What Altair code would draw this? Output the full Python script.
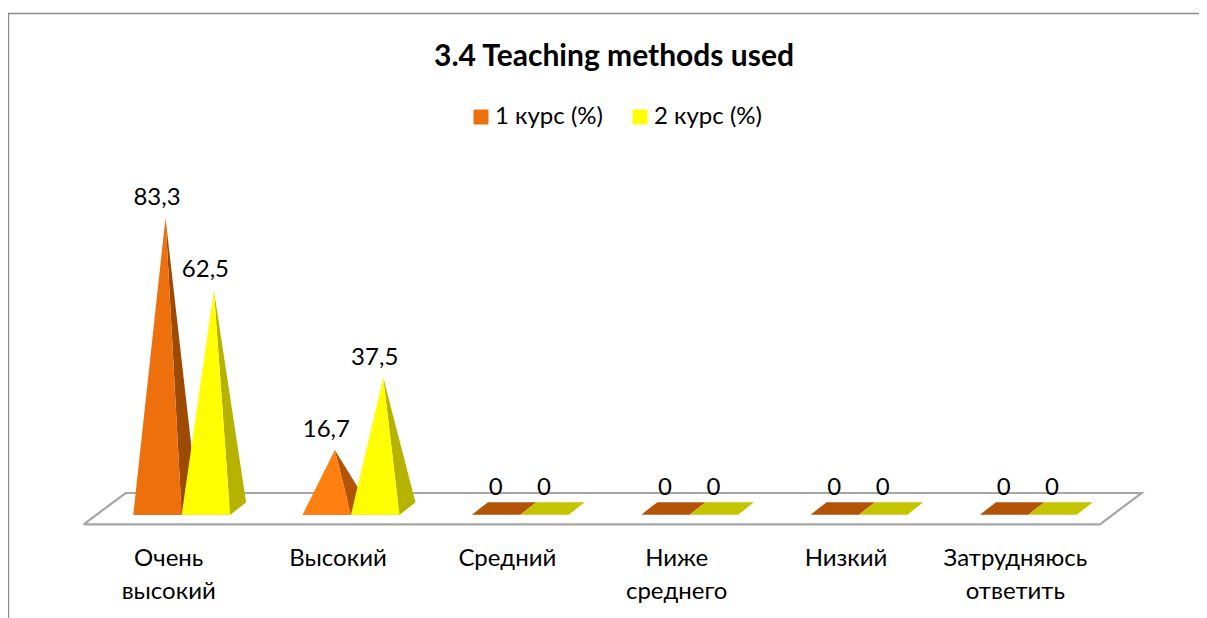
import altair as alt
import pandas as pd

categories = ["Очень\nвысокий", "Высокий", "Средний", "Ниже\nсреднего", "Низкий", "Затрудняюсь\nответить"]
series_names = ["1 курс (%)", "2 курс (%)"]
course1 = [83.3, 16.7, 0, 0, 0, 0]
course2 = [62.5, 37.5, 0, 0, 0, 0]
labels1 = ["83,3", "16,7", "0", "0", "0", "0"]
labels2 = ["62,5", "37,5", "0", "0", "0", "0"]

FONT = "Lato"
W, H = 1191, 610
UX = 169.33   # px per category
UY = 3.49     # px per percent
X0 = 181.7 - 8
Y0 = 508.4 - 8
HW = 24.2 / UX     # half width of a pyramid, in category units
DX = 16.0 / UX     # depth offset
DY = 6.25 / UY     # half depth height

front_colors = {0: ["#EE700C", "#FF7F10", "#EE700C", "#EE700C", "#EE700C", "#EE700C"], 1: ["#FFFF00"] * 6}
side_colors = {0: ["#9C4A04", "#B25405", "#B25405", "#B25405", "#B25405", "#B25405"], 1: ["#B5B300"] * 6}
base_colors = {0: ["#B25405"] * 6, 1: ["#C4C400"] * 6}

rows = []
pid = 0


def poly(points, color):
    global pid
    for k, (px, py) in enumerate(points):
        rows.append({"pid": pid, "k": k, "x": px, "y": py, "fill": color})
    pid += 1


label_rows = []
for s, (vals, labs) in enumerate([(course1, labels1), (course2, labels2)]):
    for i, v in enumerate(vals):
        left = i + (s - 1) * 2 * HW
        right = left + 2 * HW
        apex = (left + HW + DX / 2, v)
        fl, fr = (left, -DY), (right, -DY)
        bl, br = (left + DX, DY), (right + DX, DY)
        poly([fl, fr, br, bl], base_colors[s][i])
        if v > 0:
            poly([apex, fr, br], side_colors[s][i])
            poly([apex, fl, fr], front_colors[s][i])
        label_rows.append({"x": apex[0], "y": v, "t": labs[i]})

polys = pd.DataFrame(rows)
labels_df = pd.DataFrame(label_rows)
cat_df = pd.DataFrame({"x": list(range(6)), "y": [-11.1] * 6, "t": categories})

xscale = alt.Scale(domain=[-X0 / UX, (W - X0) / UX], nice=False, zero=False)
yscale = alt.Scale(domain=[(Y0 - H) / UY, Y0 / UY], nice=False, zero=False)
X = alt.X("x:Q", scale=xscale, axis=None)
Y = alt.Y("y:Q", scale=yscale, axis=None)

floor_df = pd.DataFrame({
    "x": [-0.579, -0.331, 5.669, 5.423, -0.579],
    "y": [-4.56, 4.41, 4.41, -4.56, -4.56],
    "k": range(5),
})
floor = alt.Chart(floor_df).mark_line(color="#A6A6A6", strokeWidth=2.2).encode(x=X, y=Y, order="k:Q")

frame_df = pd.DataFrame({
    "x": [-X0 / UX + 0.4 / UX, -X0 / UX + 0.4 / UX, (W - X0) / UX],
    "y": [(Y0 - H) / UY, (Y0 - 5.5) / UY, (Y0 - 5.5) / UY],
    "k": range(3),
})
frame = alt.Chart(frame_df).mark_line(color="#8C8C8C", strokeWidth=1.6).encode(x=X, y=Y, order="k:Q")

shapes = alt.Chart(polys).mark_line(strokeWidth=0, interpolate="linear").encode(
    x=X, y=Y, detail="pid:O", order="k:Q",
    fill=alt.Fill("fill:N", scale=None, legend=None),
)

value_text = alt.Chart(labels_df).mark_text(
    font=FONT, fontSize=24, color="#000000", dx=-8.5, dy=-20, baseline="middle", align="center"
).encode(x=X, y=Y, text="t:N")

cat_text = alt.Chart(cat_df).mark_text(
    font=FONT, fontSize=24, color="#000000", dx=-13, baseline="top", align="center",
    lineBreak="\n", lineHeight=33,
).encode(x=X, y=Y, text="t:N")

legend_df = pd.DataFrame({"x": [0, 0], "y": [0, 0], "series": series_names})
legend_layer = alt.Chart(legend_df).mark_square(size=0, opacity=0).encode(
    x=X, y=Y,
    color=alt.Color("series:N",
                    scale=alt.Scale(domain=series_names, range=["#EE700C", "#FFFF00"]),
                    legend=alt.Legend(orient="none", legendX=461, legendY=97, direction="horizontal",
                                      title=None, symbolType="square", symbolSize=225,
                                      symbolOpacity=1, symbolStrokeWidth=0,
                                      labelFont=FONT, labelFontSize=24, labelColor="#000000",
                                      columnPadding=25, labelOffset=2)),
)

chart = alt.layer(floor, frame, shapes, value_text, cat_text, legend_layer).properties(
    width=W, height=H, padding=0,
    autosize=alt.AutoSizeParams(type="none"),
    title=alt.TitleParams("3.4 Teaching methods used", font=FONT, fontSize=30, fontWeight="bold",
                          color="#000000", anchor="middle", offset=-64, dx=10.5),
).configure_view(stroke=None).resolve_scale(x="shared", y="shared")

chart.save("out.html", embed_options={"renderer": "svg", "actions": False})
